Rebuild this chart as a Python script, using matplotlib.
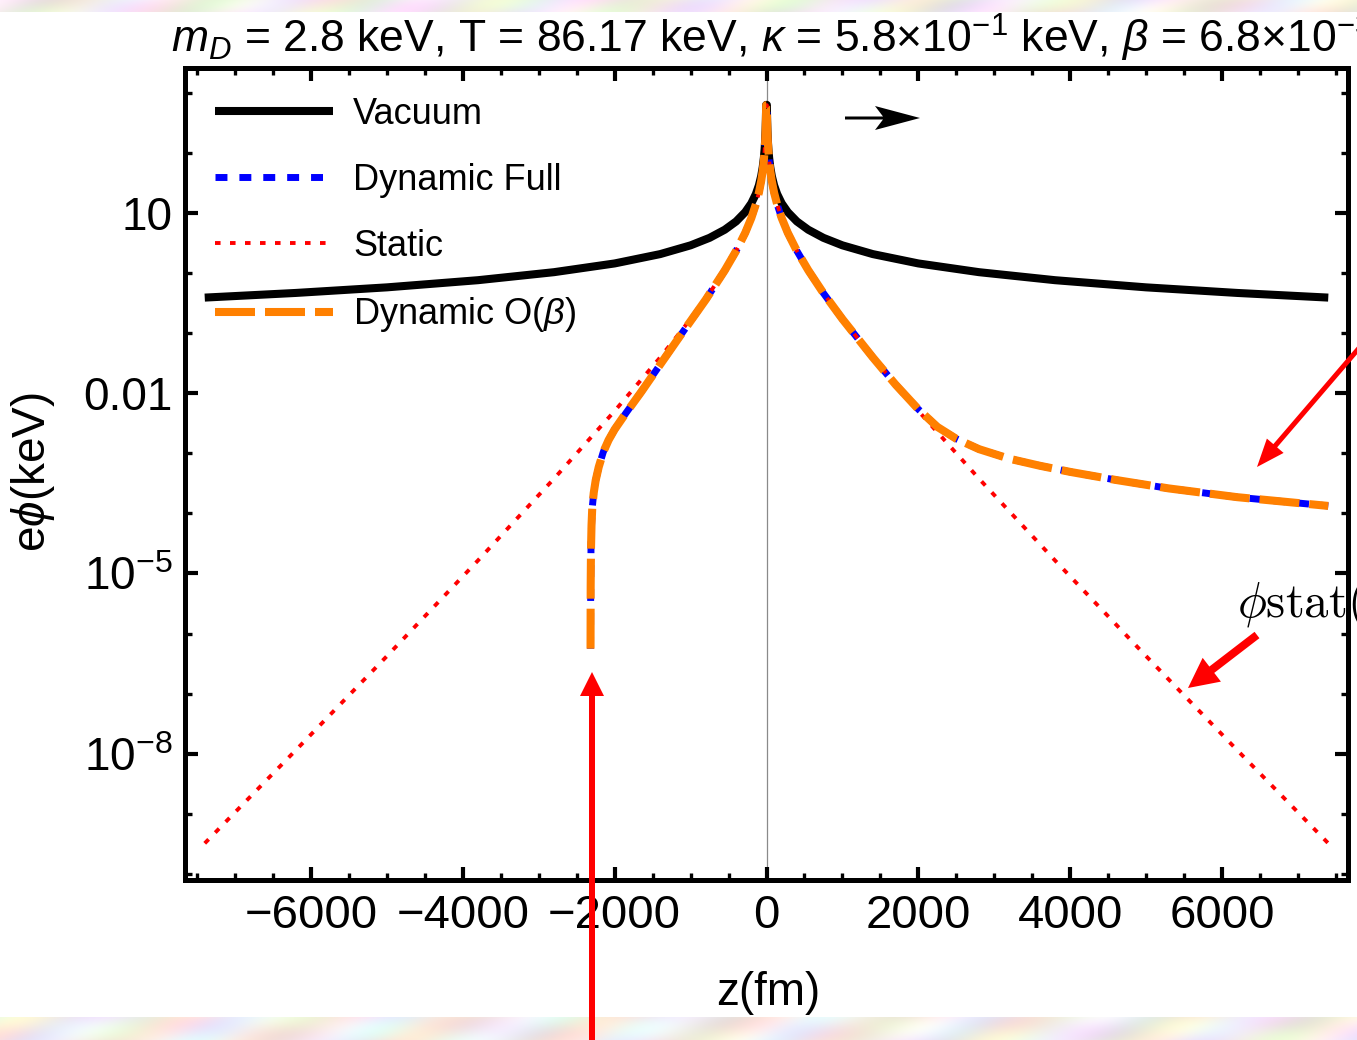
import numpy as np
import matplotlib
matplotlib.use("Agg")
import matplotlib.pyplot as plt
from matplotlib.patches import Polygon
from matplotlib.transforms import IdentityTransform
from matplotlib.ticker import FixedLocator, FixedFormatter, MultipleLocator, NullFormatter

# ---------------------------------------------------------------- data
# |z| (fm) at which the symmetric curves are sampled
z_sym = [4.6, 8, 12, 18, 25, 35, 50, 70, 100, 140, 200, 280, 400, 550, 750,
         1000, 1400, 2000, 2800, 3800, 5000, 6200, 7400]
# vacuum Coulomb potential e*phi (keV)
vacuum_val = [626, 360, 240, 160, 115, 82, 57.6, 41.1, 28.8, 20.6, 14.4, 10.3,
              7.2, 5.24, 3.84, 2.88, 2.06, 1.44, 1.03, 0.758, 0.576, 0.465, 0.389]
# statically screened potential e*phi (keV)
static_val = [618, 352, 232, 152, 107, 74.5, 50.0, 33.8, 21.7, 13.9, 8.19, 4.66,
              2.33, 1.11, 0.461, 0.171, 0.0394, 5.06e-3, 3.77e-4, 1.65e-5,
              4.22e-7, 1.15e-8, 3.24e-10]

# dynamic (moving charge) potential, sampled along z (fm)
z_dyn = [-2318, -2316, -2312, -2305, -2295, -2276, -2250, -2210, -2150, -2080,
         -2000, -1850, -1650, -1400, -1100, -800, -550, -400, -280, -200, -140,
         -100, -70, -50, -35, -25, -18, -12, -8, -4.6,
         4.6, 8, 12, 18, 25, 35, 50, 70, 100, 140, 200, 280, 400, 550, 750,
         1000, 1400, 1700, 2000, 2250, 2500, 2800, 3200, 3600, 4000, 4600,
         5300, 6200, 7400]
dyn_full_val = [5.6e-7, 6.3e-6, 2.5e-5, 6.3e-5, 1.26e-4, 2.19e-4, 3.55e-4,
                5.9e-4, 1.05e-3, 1.66e-3, 2.5e-3, 4.7e-3, 0.0105, 0.030, 0.105,
                0.36, 1.10, 2.33, 4.66, 8.19, 13.9, 21.7, 33.8, 50.0, 74.5, 107,
                152, 232, 352, 618,
                618, 352, 232, 152, 107, 74.5, 50.0, 33.8, 21.7, 13.9, 8.19, 4.66,
                2.33, 1.11, 0.461, 0.171, 0.0394, 0.0139, 5.4e-3, 2.75e-3,
                1.74e-3, 1.17e-3, 8.1e-4, 6.2e-4, 4.9e-4, 3.6e-4, 2.6e-4,
                1.86e-4, 1.33e-4]
# first-order expansion in beta: coincides with the full result at this scale
dyn_beta_val = list(dyn_full_val)

x_major = [-6000, -4000, -2000, 0, 2000, 4000, 6000]
y_major = [1e-8, 1e-5, 1e-2, 10]
y_major_labels = [r"$\mathregular{10^{-8}}$", r"$\mathregular{10^{-5}}$", "0.01", "10"]

series_labels = ["Vacuum", "Dynamic Full", "Static", r"Dynamic O($\beta$)"]
title_text = (r"$m_D$ = 2.8 keV, T = 86.17 keV, $\kappa$ = 5.8$\times$10$^{-1}$ keV, "
              r"$\beta$ = 6.8$\times$10$^{-3}$")

# ---------------------------------------------------------------- style
plt.rcParams["font.family"] = ["Liberation Sans", "DejaVu Sans"]
plt.rcParams["mathtext.fontset"] = "custom"
plt.rcParams["mathtext.rm"] = "Liberation Sans"
plt.rcParams["mathtext.it"] = "Liberation Sans:italic"
plt.rcParams["mathtext.bf"] = "Liberation Sans:bold"
plt.rcParams["lines.scale_dashes"] = False

W, H = 1357, 1040
fig = plt.figure(figsize=(W / 100, H / 100), dpi=100)
fig.patch.set_facecolor("white")

# soft pastel texture along the top and bottom edges of the slide
def pastel_band(h, w, phase):
    xx = np.arange(w)[None, :]
    yy = np.arange(h)[:, None]
    r = 0.95 + 0.05 * np.sin(xx / 17.0 + phase + yy / 9.0) * np.cos(xx / 61.0)
    g = 0.93 + 0.06 * np.sin(xx / 29.0 + 1.3 + phase) * np.cos(yy / 7.0 + xx / 83.0)
    b = 0.92 + 0.07 * np.cos(xx / 23.0 + 2.1 - phase + yy / 11.0)
    return np.clip(np.dstack([r, g, b]), 0, 1)

fig.figimage(pastel_band(23, W, 0.0), xo=0, yo=0, zorder=0)
fig.figimage(pastel_band(12, W, 1.7), xo=0, yo=H - 12, zorder=0)

L, R, T, B = 185, 1348, 68, 880
ax = fig.add_axes([L / W, 1 - B / H, (R - L) / W, (B - T) / H])

zs = [-v for v in z_sym[::-1]] + z_sym
vac_s = vacuum_val[::-1] + vacuum_val
stat_s = static_val[::-1] + static_val

ax.axvline(0, color="#8a8a8a", lw=0.9, zorder=1)
ax.plot(zs, vac_s, color="black", lw=5.8, solid_capstyle="butt",
        solid_joinstyle="round", label=series_labels[0], zorder=3)
ax.plot(z_dyn, dyn_full_val, color="#0000ff", lw=5.0, dashes=(8.6, 8.6),
        label=series_labels[1], zorder=4)
ax.plot(zs, stat_s, color="#ff0000", lw=2.8, dashes=(4.0, 6.8),
        label=series_labels[2], zorder=5)
ax.plot(z_dyn, dyn_beta_val, color="#ff8000", lw=5.8, dashes=(28.8, 7.2),
        label=series_labels[3], zorder=6)

ax.set_yscale("log")
ax.set_xlim(-7660, 7660)
ax.set_ylim(10 ** -10.1, 10 ** 3.41)

ax.xaxis.set_major_locator(FixedLocator(x_major))
ax.xaxis.set_major_formatter(FixedFormatter([f"{v}".replace("-", "\u2212") for v in x_major]))
ax.xaxis.set_minor_locator(MultipleLocator(500))
ax.yaxis.set_major_locator(FixedLocator(y_major))
ax.yaxis.set_major_formatter(FixedFormatter(y_major_labels))
ax.yaxis.set_minor_locator(FixedLocator([10.0 ** k for k in range(-10, 4)]))
ax.yaxis.set_minor_formatter(NullFormatter())

ax.tick_params(which="both", direction="in", top=True, right=True, color="black")
ax.tick_params(which="major", length=9.5, width=3.0)
ax.tick_params(axis="x", which="major", labelsize=34, pad=10)
ax.tick_params(axis="y", which="major", labelsize=33, pad=9)
ax.tick_params(which="minor", length=5.0, width=2.4)
for sp in ax.spines.values():
    sp.set_linewidth(3.6)

leg = ax.legend(loc="upper left", bbox_to_anchor=(215, H - 97), bbox_transform=IdentityTransform(),
                frameon=False, fontsize=26, handlelength=3.27, handletextpad=0.55,
                labelspacing=0.86, borderpad=0, borderaxespad=0)

fig.text(772 / W, 1 - 38 / H, title_text, ha="center", va="center", fontsize=32)
fig.text(768 / W, 1 - 993 / H, "z(fm)", ha="center", va="center", fontsize=33)
fig.text(33 / W, 1 - 472 / H, r"e$\phi$(keV)", ha="center", va="center",
         rotation=90, fontsize=33)
fig.text(1237 / W, 1 - 617 / H, r"$\phi\mathrm{stat}($", ha="left", va="baseline",
         fontsize=35, math_fontfamily="cm")


# arrows drawn in image pixel coordinates (y measured from the top)
def arrow(x0, y0, x1, y1, shaft, head_len, head_half, color, notch=0.0):
    p0 = np.array([x0, H - y0], float)
    p1 = np.array([x1, H - y1], float)
    d = p1 - p0
    u = d / np.hypot(*d)
    n = np.array([-u[1], u[0]])
    base = p1 - u * head_len
    neck = base + u * notch
    pts = [p0 + n * shaft / 2, neck + n * shaft / 2, base + n * head_half, p1,
           base - n * head_half, neck - n * shaft / 2, p0 - n * shaft / 2]
    fig.add_artist(Polygon(pts, closed=True, facecolor=color, edgecolor="none",
                           transform=IdentityTransform(), zorder=10))


arrow(845, 118, 920, 118, 3, 45, 12, "black", notch=8)
arrow(1390, 312, 1257, 467, 5, 28, 11, "#ff0000")
arrow(1257, 635, 1188, 688, 8, 30, 15, "#ff0000")
arrow(592, 1060, 592, 672, 6, 24, 12, "#ff0000")

fig.savefig("out.png", dpi=100)
